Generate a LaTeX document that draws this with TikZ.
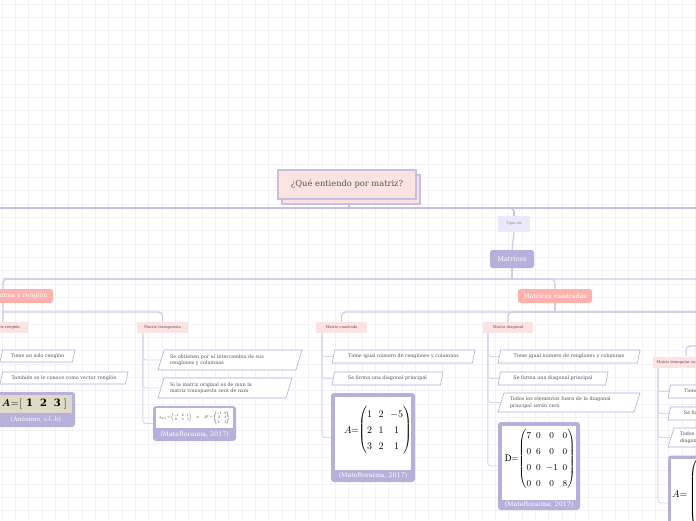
\documentclass[tikz,border=0pt]{standalone}
\usepackage{amsmath}
\usepackage{graphicx}
\usepackage{fontspec}
\setmainfont{DejaVu Serif}
\usetikzlibrary{shapes.geometric,shadows}
\pgfdeclarelayer{gridl}
\pgfdeclarelayer{lines}
\pgfsetlayers{gridl,lines,main}
\definecolor{lavq}{HTML}{C6BFE1}
\definecolor{lavb}{HTML}{CFCAE7}
\definecolor{lavc}{HTML}{DAD6EE}
\definecolor{purp}{HTML}{B8AFDB}
\definecolor{salmon}{HTML}{FFB1AE}
\definecolor{lpink}{HTML}{FDE2E2}
\definecolor{tiposc}{HTML}{ECE8FB}
\definecolor{pbord}{HTML}{B5AED8}
\definecolor{txt}{HTML}{555555}
\definecolor{gridc}{HTML}{F2F1F7}
\definecolor{beige}{HTML}{DEDAC6}
\begin{document}
\begin{tikzpicture}[x=1pt,y=-1pt,
 qbox/.style={draw=lavq, line width=1.5pt, fill=lpink, minimum width=138pt, minimum height=29pt, inner sep=0pt, text=txt, font=\fontsize{8.3}{9}\selectfont, copy shadow={shadow xshift=4pt, shadow yshift=-5pt}},
 tiposbox/.style={fill=tiposc, text=txt!70, font=\fontsize{3.6}{4}\selectfont, minimum width=32pt, minimum height=16pt, inner sep=0pt},
 topicbox/.style={fill=purp, rounded corners=2.5pt, text=white, font=\fontsize{6.5}{7}\selectfont, inner sep=0pt, minimum height=18pt},
 subbox/.style={fill=salmon, rounded corners=2.5pt, text=white, font=\fontsize{6.3}{7}\selectfont, inner sep=0pt, minimum height=14pt},
 leafbox/.style={fill=lpink, text=txt, font=\fontsize{3.8}{4}\selectfont, inner sep=0pt, minimum height=11pt},
 parabox/.style={trapezium, trapezium left angle=62, trapezium right angle=118, trapezium stretches body=true, draw=pbord, line width=0.6pt, fill=white, text=txt, font=\fontsize{4.85}{6.6}\selectfont, inner sep=0pt, align=left},
 imgbox/.style={fill=purp, rounded corners=3pt, inner sep=0pt},
 imgin/.style={fill=white, inner sep=0pt},
 citetext/.style={text=white, font=\fontsize{6.3}{7}\selectfont, inner sep=0pt},
 lone/.style={draw=lavq, line width=1.6pt, rounded corners=4pt},
 ltwo/.style={draw=lavb, line width=1.2pt, rounded corners=4pt},
 lthree/.style={draw=lavc, line width=0.9pt, rounded corners=3pt}
]
\useasboundingbox (0,0) rectangle (696,520);
\clip (0,0) rectangle (696,520);
\begin{pgfonlayer}{gridl}
\fill[white] (0,0) rectangle (696,520);
\foreach \i in {0,...,53} \draw[gridc, line width=0.5pt] ({2+\i*13.33},0) -- ({2+\i*13.33},520);
\foreach \j in {0,...,39} \draw[gridc, line width=0.5pt] (0,{4+\j*13.33}) -- (696,{4+\j*13.33});
\end{pgfonlayer}

% main nodes
\node[qbox] (q) at (347,184.5) {¿Qué entiendo por matriz?};
\node[tiposbox] (tp) at (514,224) {Tipos de};
\node[topicbox, minimum width=44pt] (mat) at (512,259) {Matrices};
\node[subbox, minimum width=72pt] (col) at (17,296) {Columna y renglón};
\node[subbox, minimum width=74pt] (mc) at (555,296) {Matrices cuadradas};
\node[leafbox, minimum width=45pt] (ren) at (5.5,327.5) {Matriz renglón};
\node[leafbox, minimum width=51pt] (tr) at (162.5,327.5) {Matriz transpuesta};
\node[leafbox, minimum width=51pt] (cq) at (341.5,327.5) {Matriz cuadrada};
\node[leafbox, minimum width=50pt] (md) at (508,327.5) {Matriz diagonal};
\node[leafbox, minimum width=58pt] (mt) at (682,362) {Matriz triangular superior};

% Matriz renglon
\node[parabox, minimum width=75pt, minimum height=12pt] (p1) at (37.5,356) {Tiene un solo renglón};
\node[parabox, minimum width=128pt, minimum height=12pt] (p2) at (64,378) {También se le conoce como vector renglón};
\node[imgbox, minimum width=80pt, minimum height=35pt] (aimg) at (35,409.5) {};
\node[fill=beige, inner sep=0pt, minimum width=74pt, minimum height=18pt] (ain) at (35,403.5) {};
\node[inner sep=0pt, font=\fontsize{10}{12}\selectfont, anchor=west] (aform) at (1.5,403.5) {$\boldsymbol{A}\mkern1mu{=}\mkern1mu\mathbf{\lbrack\hspace{4pt}1\hspace{7pt}2\hspace{7pt}3\hspace{3pt}\rbrack}$};
\node[citetext, font=\fontsize{6}{7}\selectfont] (acite) at (36,420) {(Anónimo, s.f.-b)};

% Matriz transpuesta
\node[parabox, minimum width=144pt, minimum height=20pt, text width=120pt] (t1) at (230,360) {Se obtienen por el intercambio de sus\\renglones y columnas};
\node[parabox, minimum width=134pt, minimum height=20pt, text width=110pt] (t2) at (225,388) {Si la matriz original es de mxn la\\matriz transpuesta será de nxm};
\node[imgbox, minimum width=83pt, minimum height=35pt] (timg) at (194.5,423.5) {};
\node[imgin, minimum width=77pt, minimum height=20pt] (tin) at (194.5,418) {};
\node[inner sep=0pt] (tform) at (194.5,418) {\resizebox{70pt}{!}{$a_{2\times 3}=\begin{pmatrix}-1&2&1\\0&3&5\end{pmatrix}\quad\Rightarrow\quad A^{T}=\begin{pmatrix}-1&0\\2&3\\1&5\end{pmatrix}$}};
\node[citetext] (tcite) at (194.5,434.5) {(MateRoraima, 2017)};

% Matriz cuadrada
\node[parabox, minimum width=143pt, minimum height=13pt] (c1) at (403.5,356.5) {Tiene igual número de renglones y columnas};
\node[parabox, minimum width=111pt, minimum height=13pt] (c2) at (387.5,378.5) {Se forma una diagonal principal};
\node[imgbox, minimum width=84pt, minimum height=89pt] (cimg) at (373,437.5) {};
\node[imgin, minimum width=76pt, minimum height=73pt] (cin) at (373,433.5) {};
\node[inner sep=0pt, font=\fontsize{10}{12.6}\selectfont, anchor=west] (cform) at (344,430.5) {\setlength{\arraycolsep}{3.3pt}\renewcommand{\arraystretch}{1.27}$A\mkern-1mu{=}\mkern-4mu\begin{pmatrix}1&2&-5\\2&1&1\\3&2&1\end{pmatrix}$};
\node[citetext] (ccite) at (373,476) {(MateRoraima, 2017)};

% Matriz diagonal
\node[parabox, minimum width=142pt, minimum height=13pt] (d1) at (569,356.5) {Tiene igual número de renglones y columnas};
\node[parabox, minimum width=110pt, minimum height=13pt] (d2) at (553,378.5) {Se forma una diagonal principal};
\node[parabox, minimum width=142pt, minimum height=19pt, text width=118pt] (d3) at (569,402.5) {Todos los elementos fuera de la diagonal\\principal serán cero};
\node[imgbox, minimum width=82pt, minimum height=88pt] (dimg) at (539,466) {};
\node[imgin, minimum width=74pt, minimum height=74pt] (din) at (539,463) {};
\node[inner sep=0pt, font=\fontsize{8.9}{11.5}\selectfont] (dform) at (540,459) {\setlength{\arraycolsep}{2.5pt}\renewcommand{\arraystretch}{1.4}$\mathrm{D}\mkern-1mu{=}\mkern-3mu\begin{pmatrix}7&0&0&0\\0&6&0&0\\0&0&-1&0\\0&0&0&8\end{pmatrix}$};
\node[citetext] (dcite) at (539,505) {(MateRoraima, 2017)};

% Matriz triangular
\node[parabox, minimum width=143pt, minimum height=13pt] (r1) at (739.5,391.5) {Tiene igual número de renglones y columnas};
\node[parabox, minimum width=111pt, minimum height=13pt] (r2) at (723.5,413.5) {Se forma una diagonal principal};
\node[parabox, minimum width=143pt, minimum height=19pt, text width=119pt] (r3) at (739.5,437.5) {Todos los elementos por debajo de la\\diagonal principal son cero};
\node[imgbox, minimum width=84pt, minimum height=95pt] (rimg) at (710,503) {};
\node[imgin, minimum width=78pt, minimum height=85pt] (rin) at (710,501) {};
\node[inner sep=0pt, font=\fontsize{10}{12}\selectfont, anchor=west] (rform) at (672,495) {\renewcommand{\arraystretch}{1.55}$A{=}\begin{pmatrix}1&2&3&4\\0&5&6&7\\0&0&8&9\\0&0&0&1\end{pmatrix}$};

\begin{pgfonlayer}{lines}
\coordinate (L1a) at (0,208);
\coordinate (L1b) at (696,208);
\coordinate (L2a) at (3,279);
\coordinate (L2b) at (696,279);
\coordinate (L3a) at (3,312);
\coordinate (L3b) at (696,312);
\coordinate (L4) at (696,346);
\draw[lone] (L1a) -- (L1b);
\draw[lone] ([xshift=2pt]q.south) -- ([xshift=2pt]q.south |- L1a);
\draw[lone] (L1a) -| (tp.north);
\draw[ltwo] (tp.south) -- (mat.north);
\draw[ltwo] (L2b) -| (L2a |- ren.north);
\draw[ltwo] (mat.south) -- (mat.south |- L2a);
\draw[ltwo] (L2a) -| (mc.north);
\draw[ltwo] (L3a) -| (tr.north);
\draw[ltwo] (L3b) -| (cq.north);
\draw[ltwo] (L3b) -| (md.north);
\draw[ltwo] (mc.south) -- (mc.south |- L3b);
\draw[ltwo] (L4) -| ([xshift=4pt]mt.north);
% children
\draw[lthree] ([xshift=6pt]tr.south west) |- (t1.left side);
\draw[lthree] ([xshift=6pt]tr.south west) |- (t2.left side);
\draw[lthree] ([xshift=6pt]tr.south west) |- (timg.west);
\draw[lthree] ([xshift=6pt]cq.south west) |- (c1.left side);
\draw[lthree] ([xshift=6pt]cq.south west) |- (c2.left side);
\draw[lthree] ([xshift=6pt]cq.south west) |- (cimg.west);
\draw[lthree] ([xshift=5pt]md.south west) |- (d1.left side);
\draw[lthree] ([xshift=5pt]md.south west) |- (d2.left side);
\draw[lthree] ([xshift=5pt]md.south west) |- (d3.left side);
\draw[lthree] ([xshift=5pt]md.south west) |- (dimg.west);
\draw[lthree] ([xshift=5pt]mt.south west) |- (r1.left side);
\draw[lthree] ([xshift=5pt]mt.south west) |- (r2.left side);
\draw[lthree] ([xshift=5pt]mt.south west) |- (r3.left side);
\draw[lthree] ([xshift=5pt]mt.south west) |- (rimg.west);
\end{pgfonlayer}
\end{tikzpicture}
\end{document}
